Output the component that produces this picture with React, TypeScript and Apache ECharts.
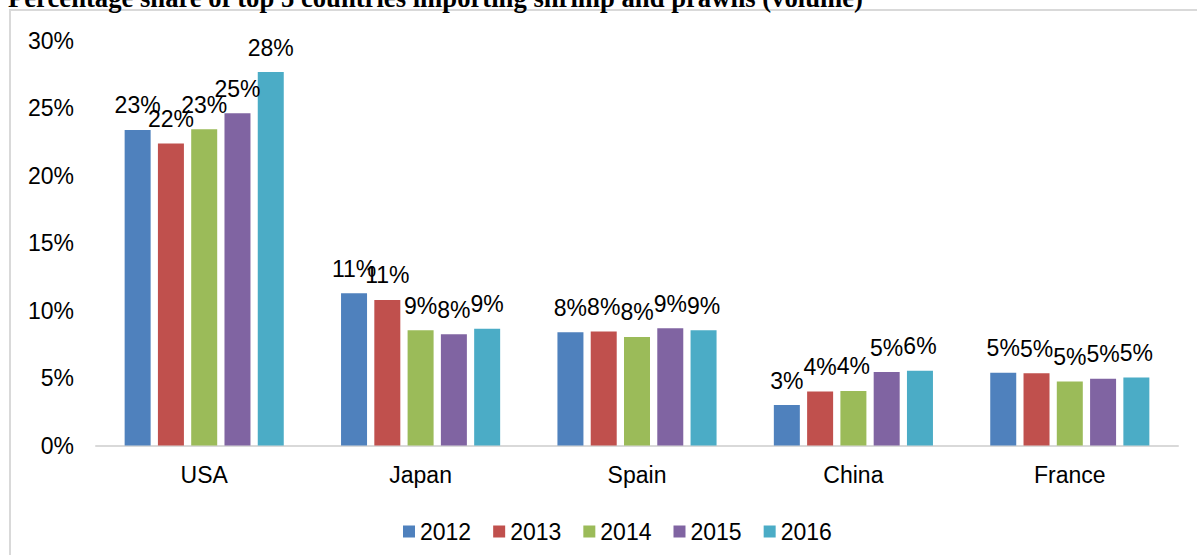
import React, { useEffect, useRef } from "react";
import * as echarts from "echarts";

const TITLE = "Percentage share of top 5 countries importing shrimp and prawns (volume)";
const categories = ["USA", "Japan", "Spain", "China", "France"];
const years = ["2012", "2013", "2014", "2015", "2016"];
const v2012 = [23.4, 11.3, 8.4, 3.0, 5.4];
const v2013 = [22.4, 10.8, 8.45, 4.0, 5.35];
const v2014 = [23.45, 8.55, 8.05, 4.05, 4.75];
const v2015 = [24.65, 8.25, 8.7, 5.45, 4.95];
const v2016 = [27.7, 8.65, 8.55, 5.55, 5.05];
const seriesValues = [v2012, v2013, v2014, v2015, v2016];
const colors = ["#4F81BD", "#C0504D", "#9BBB59", "#8064A2", "#4BACC6"];
const yTicks = { min: 0, max: 30, interval: 5 };

const FONT = "'Liberation Sans', Arial, sans-serif";

export default function App() {
  const ref = useRef<HTMLDivElement>(null);
  useEffect(() => {
    if (!ref.current) return;
    const chart = echarts.init(ref.current, undefined, { renderer: "svg" });
    chart.setOption({
      animation: false,
      backgroundColor: "#ffffff",
      color: colors,
      textStyle: { fontFamily: FONT },
      graphic: [
        {
          type: "rect",
          shape: { x: 10, y: 10, width: 1300, height: 700 },
          style: { fill: "none", stroke: "#d9d9d9", lineWidth: 2 },
          silent: true,
          z: 0,
        },
        {
          type: "text",
          x: 8,
          y: -2.5,
          style: {
            text: TITLE,
            font: "bold 26.67px 'Liberation Serif', 'Times New Roman', serif",
            fill: "#000",
            textAlign: "left",
            textVerticalAlign: "middle",
            align: "left",
            verticalAlign: "middle",
          },
          z: 10,
        },
      ],
      grid: { left: 96, right: 19, top: 41, bottom: 109.5, containLabel: false },
      legend: {
        data: years,
        left: 398,
        top: 515,
        icon: "rect",
        itemWidth: 12,
        itemHeight: 12,
        itemGap: 22,
        textStyle: { fontSize: 23, color: "#000", fontFamily: FONT },
      },
      xAxis: {
        type: "category",
        data: categories,
        axisLine: { show: true, lineStyle: { color: "#d9d9d9", width: 2 } },
        axisTick: { show: false },
        axisLabel: { fontSize: 23, color: "#000", margin: 18, fontFamily: FONT },
      },
      yAxis: {
        type: "value",
        min: yTicks.min,
        max: yTicks.max,
        interval: yTicks.interval,
        axisLine: { show: false },
        axisTick: { show: false },
        splitLine: { show: false },
        axisLabel: {
          fontSize: 23,
          color: "#000",
          margin: 22,
          fontFamily: FONT,
          formatter: (v: number) => `${v}%`,
        },
      },
      series: years.map((y, i) => ({
        name: y,
        type: "bar",
        data: seriesValues[i],
        barWidth: 26,
        barGap: "28%",
        itemStyle: { color: colors[i] },
        label: {
          show: true,
          position: "top",
          distance: 13,
          fontSize: 23,
          color: "#000",
          fontFamily: FONT,
          formatter: (p: any) => `${Math.round(p.value)}%`,
        },
      })),
    });
    return () => chart.dispose();
  }, []);
  return (
    <div
      ref={ref}
      style={{ position: "fixed", left: 0, top: 0, width: 1197, height: 555 }}
    />
  );
}
